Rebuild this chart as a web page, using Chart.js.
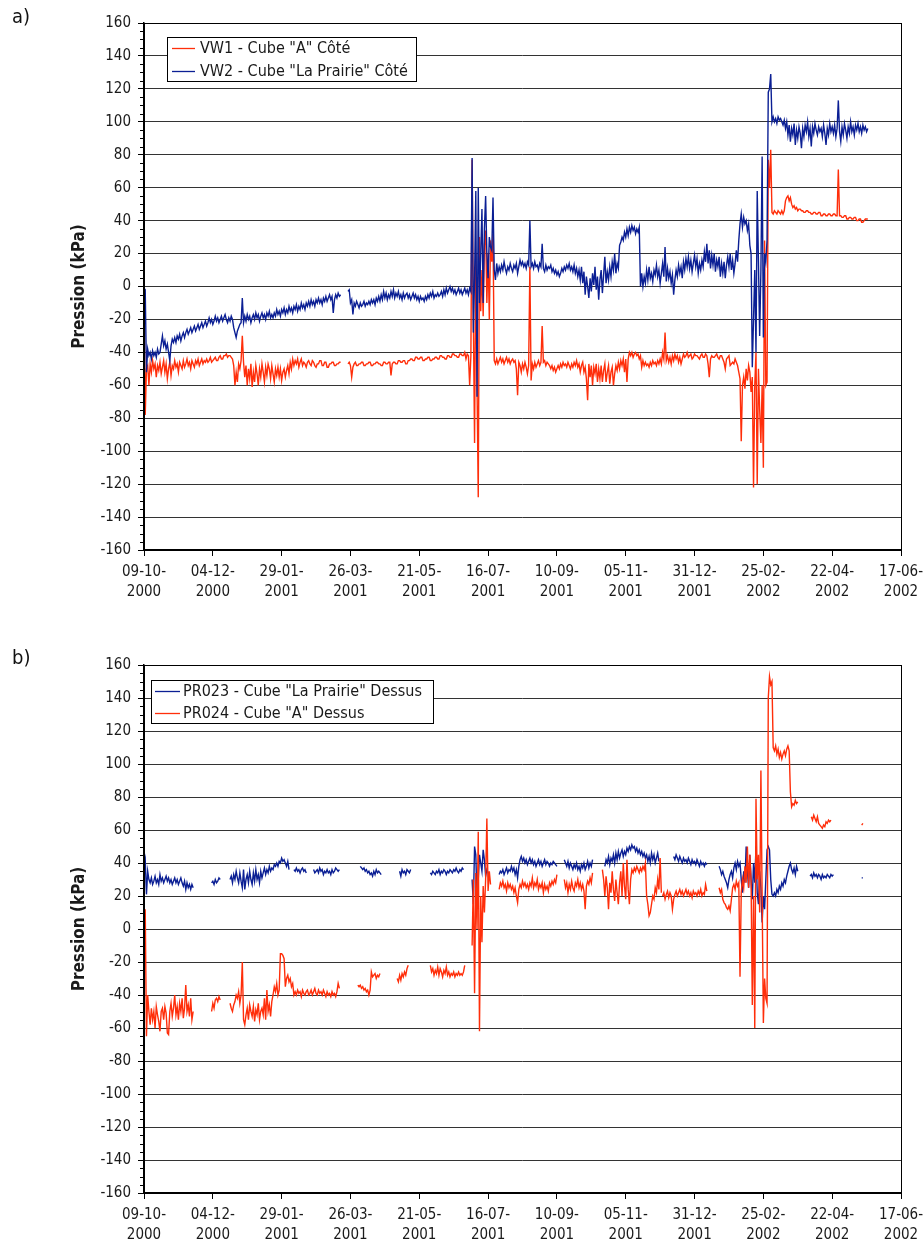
<!DOCTYPE html>
<html>
<head>
<meta charset="utf-8">
<script src="https://cdn.jsdelivr.net/npm/chart.js@4.4.1/dist/chart.umd.min.js"></script>
<style>
  body { margin: 0; background: #fff; width: 924px; height: 1243px; position: relative; overflow: hidden;
         font-family: 'DejaVu Sans Condensed', 'Liberation Sans', sans-serif; }
  .panel { position: absolute; left: 0; width: 924px; }
  .tag { position: absolute; left: 12px; font-size: 20px; color: #111; }
</style>
</head>
<body>
<div class="panel" style="top:0;height:620px"><canvas id="chartA" width="924" height="620"></canvas></div>
<div class="panel" style="top:620px;height:623px"><canvas id="chartB" width="924" height="623"></canvas></div>
<div class="tag" style="top:4px">a)</div>
<div class="tag" style="top:645px">b)</div>
<script>
// Jours depuis le 09-10-2000, segments [jour de début, valeurs journalières] (kPa)
const dateTicks = ['09-10-2000', '04-12-2000', '29-01-2001', '26-03-2001', '21-05-2001', '16-07-2001',
                   '10-09-2001', '05-11-2001', '31-12-2001', '25-02-2002', '22-04-2002', '17-06-2002'];

const vw1 = [
  [0, [-2, -78, -50, -48, -60, -47, -52, -45, -50, -47,
       -55, -48, -51, -46, -53, -49, -45, -52, -47, -56,
       -50, -46, -54, -48, -50, -45, -49, -47, -52, -46,
       -48, -50, -45, -49, -47, -44, -48, -46, -50, -45,
       -47, -49, -45, -47, -44, -48, -46, -44, -47, -45,
       -46, -44, -46, -45, -43, -46, -45, -44, -43, -45,
       -45, -43, -42, -44, -44, -42, -42, -41, -43, -42,
       -42, -43, -44, -48, -60, -52, -58, -47, -50, -45,
       -30, -46, -55, -48, -60, -50, -56, -47, -61, -52,
       -58, -48, -53, -60, -50, -55, -47, -52, -58, -49,
       -54, -47, -50, -56, -48, -53, -58, -50, -54, -49,
       -55, -50, -57, -52, -50, -55, -51, -48, -53, -46,
       -50, -44, -48, -45, -47, -44, -49, -46, -44, -48,
       -46, -47, -49, -46, -45, -47, -48, -45, -46, -48,
       -49, -47, -47, -45, -45, -48, -48, -46, -46, -49,
       -49, -47, -47, -46, -46, -48, -48, -47, -47, -46,
       -46]],
  [166, [-47, -46, -48, -55,
       -49, -47, -46, -48, -48, -47, -47, -46, -46, -48,
       -48, -47, -47, -46, -46, -48, -48, -47, -47, -46,
       -46, -47, -47, -48, -48, -46, -46, -47, -47, -46,
       -46, -54, -47, -46, -46, -47, -47, -45, -45, -46,
       -46, -45, -45, -47, -47, -45, -45, -44, -44, -45,
       -45, -43, -43, -44, -44, -43, -43, -45, -45, -44,
       -44, -43, -43, -45, -45, -44, -44, -43, -43, -44,
       -44, -42, -42, -43, -43, -44, -44, -42, -42, -43,
       -43, -41, -41, -42, -42, -43, -43, -41, -41, -42,
       -42, -40, -44, -41, -42, -60, -42, 77, -20, -95,
       20, -60, -128, 30, -15, 10, -18, 25, 34, -10,
       20, -20, 28, 15, 32, -45, -47, -44, -47, -45,
       -43, -46, -44, -47, -45, -43, -46, -44, -47, -45,
       -44, -46, -45, -50, -66, -46, -48, -52, -47, -50,
       -46, -49, -53, -48, 12, -57, -47, -50, -46, -49,
       -47, -45, -48, -46, -24, -46, -45, -48, -46, -47,
       -48, -50, -48, -51, -49, -52, -50, -48, -50, -47,
       -49, -46, -48, -47, -49, -46, -48, -50, -47, -49,
       -46, -48, -45, -49, -47, -52, -48, -46, -52, -49,
       -56, -69, -47, -55, -48, -60, -49, -53, -47, -58,
       -50, -56, -48, -58, -51, -47, -58, -52, -48, -59,
       -52, -49, -60, -53, -48, -51, -46, -50, -45, -48,
       -44, -52, -44, -58, -44, -40, -42, -40, -43, -41,
       -40, -42, -41, -44, -42, -49, -45, -48, -46, -48,
       -47, -49, -46, -48, -45, -47, -46, -48, -45, -47,
       -44, -47, -40, -44, -28, -45, -42, -46, -43, -47,
       -42, -45, -41, -44, -42, -46, -43, -47, -44, -41,
       -43, -42, -40, -43, -42, -41, -44, -43, -41, -42,
       -42, -43, -44, -42, -41, -43, -43, -41, -42, -47,
       -55, -44, -42, -43, -43, -42, -41, -43, -44, -42,
       -42, -44, -46, -50, -44, -43, -42, -48, -47, -46,
       -47, -44, -46, -48, -52, -56, -94, -60, -55, -62,
       -50, -57, -48, -52, -64, -55, -122, -60, -40, -120,
       -50, -75, -95, -60, -110, 28, -60, -58, 77, 60,
       83, 45, 44, 46, 45, 44, 46, 45, 44, 46,
       44, 46, 52, 54, 55, 52, 54, 50, 48, 49,
       47, 48, 46, 47, 47, 46, 46, 45, 45, 46,
       46, 45, 45, 44, 44, 45, 45, 44, 44, 45,
       45, 43, 43, 44, 44, 43, 43, 44, 44, 43,
       43, 44, 44, 43, 43, 71, 43, 43, 42, 42,
       43, 43, 41, 41, 42, 42, 41, 41, 42, 42,
       40, 40, 41, 41, 39, 39, 40, 41, 41, 41]]
];

const vw2 = [
  [0, [-1, -2, -52, -38, -42, -40, -44, -39, -42, -40,
       -43, -38, -41, -40, -35, -30, -36, -33, -38, -35,
       -40, -45, -36, -32, -34, -31, -34, -30, -32, -29,
       -33, -30, -28, -31, -28, -26, -29, -27, -25, -28,
       -26, -24, -27, -25, -23, -26, -24, -22, -25, -23,
       -21, -24, -22, -19, -22, -20, -23, -21, -18, -21,
       -19, -22, -20, -18, -21, -19, -17, -20, -22, -19,
       -21, -18, -20, -25, -28, -31, -27, -25, -23, -22,
       -7, -22, -18, -21, -17, -20, -18, -22, -19, -17,
       -20, -16, -19, -17, -21, -18, -16, -19, -17, -20,
       -16, -18, -15, -19, -17, -19, -16, -18, -14, -17,
       -15, -18, -14, -16, -13, -17, -14, -16, -12, -15,
       -13, -16, -12, -14, -11, -15, -12, -14, -10, -13,
       -11, -14, -10, -12, -9, -12, -8, -11, -9, -12,
       -8, -10, -7, -10, -8, -11, -7, -9, -6, -9,
       -7, -5, -8, -6, -16, -8, -5, -7, -4, -6,
       -5]],
  [166, [-3, -2, -10, -8,
       -17, -10, -12, -9, -11, -13, -10, -12, -11, -9,
       -12, -10, -11, -9, -11, -8, -10, -8, -11, -7,
       -9, -6, -9, -5, -8, -3, -7, -4, -8, -5,
       -7, -3, -6, -2, -7, -4, -6, -3, -7, -5,
       -8, -4, -7, -5, -4, -7, -5, -8, -6, -4,
       -7, -5, -8, -6, -9, -6, -8, -7, -9, -6,
       -8, -5, -7, -4, -6, -3, -7, -5, -6, -4,
       -6, -5, -3, -6, -2, -5, -1, -4, -2, 0,
       -3, -1, -4, -2, -5, -3, -1, -4, -2, -5,
       -3, -1, -4, -2, -5, -1, -3, 78, -28, 5,
       58, -67, 60, -10, 20, 47, -10, 35, 55, 20,
       5, 30, 24, 22, 54, 10, 4, 14, 8, 12,
       9, 13, 10, 15, 11, 8, 12, 10, 14, 11,
       9, 13, 11, 14, 8, 12, 16, 13, 15, 12,
       14, 11, 15, 13, 40, 12, 14, 11, 15, 12,
       13, 10, 14, 12, 26, 11, 9, 13, 10, 12,
       11, 13, 9, 11, 8, 10, 7, 9, 6, 8,
       11, 9, 12, 10, 13, 11, 14, 10, 12, 9,
       13, 8, 11, 6, 10, 4, 12, 2, 9, -5,
       6, 0, -7, 5, -3, 8, 1, 12, -2, 6,
       -8, 4, 10, -4, 7, 18, 2, 9, 4, 12,
       6, 15, 10, 20, 8, 14, 11, 25, 27, 30,
       28, 33, 30, 35, 31, 36, 33, 37, 34, 36,
       32, 35, 33, 36, 0, 8, 0, 6, 2, 10,
       4, 12, 5, 8, 3, 10, 7, 13, 6, 10,
       2, 8, 14, 6, 24, 3, 11, 5, 9, 2,
       7, -5, 4, 10, 6, 13, 8, 12, 5, 15,
       10, 17, 12, 18, 11, 16, 9, 14, 19, 12,
       17, 8, 14, 10, 16, 12, 21, 15, 26, 14,
       22, 11, 19, 13, 20, 9, 16, 12, 18, 6,
       14, 8, 15, 5, 13, 18, 12, 20, 10, 16,
       8, 14, 22, 15, 28, 38, 44, 36, 42, 38,
       40, 34, 38, 25, 20, -49, -20, 10, -40, 58,
       15, -30, 10, 79, -31, 20, 15, 28, 118, 120,
       129, 100, 103, 100, 102, 99, 103, 101, 102, 100,
       98, 101, 96, 100, 92, 98, 88, 96, 92, 99,
       86, 95, 90, 97, 93, 84, 96, 91, 98, 94,
       100, 91, 96, 85, 97, 93, 99, 95, 92, 97,
       94, 96, 91, 98, 93, 86, 96, 92, 99, 94,
       97, 93, 98, 91, 96, 113, 94, 88, 97, 92,
       99, 95, 90, 97, 93, 100, 94, 97, 92, 98,
       95, 99, 94, 97, 93, 98, 95, 97, 94, 96]]
];

const pr023 = [
  [0, [38, 42, 21, 35, 30, 28, 31, 27, 29, 32, 28, 30, 27, 33, 29, 31, 28, 30, 32, 29, 31,
       28, 30, 27, 29, 31, 28, 30, 27, 29, 31, 28, 26, 29, 24, 28, 25, 27, 24, 27, 25]],
  [55, [28, 29, 27, 30, 28, 29, 31, 30]],
  [70, [30, 32, 28, 33, 30, 35, 31, 28, 34, 29, 25, 36, 24, 30, 33, 28, 35, 30, 27, 34,
        29, 36, 30, 33, 28, 35, 31, 34, 37, 33, 36, 34, 38, 35, 37, 36, 39, 38, 40, 38,
        41, 40, 43, 41, 42, 40, 38, 41, 36]],
  [122, [36, 35, 37, 35, 36, 34, 36, 37, 35, 36, 34]],
  [138, [36, 34, 35, 36, 34, 37, 35, 36, 33, 35, 34, 36, 34, 35, 33, 36, 34, 35, 37, 36, 35, 36]],
  [176, [38, 37, 36, 37, 35, 36, 34, 35, 33, 34, 32, 35, 33, 36, 34, 35, 34, 33]],
  [208, [35, 32, 36, 34, 35, 33, 36, 35, 34, 36]],
  [233, [34, 33, 35, 34, 33, 35, 34, 36, 33, 35, 34, 36, 35, 33, 35, 34, 36, 35, 34, 36,
         35, 37, 35, 34, 36, 35, 37, 36]],
  [267, [30, 15, 50, 45, 17, 30, 45, 40, 35, 48, 42, 32, 36, 34, 33]],
  [289, [33, 35, 34, 36, 33, 35, 37, 34, 36, 35, 38, 35, 37, 33, 36, 31, 38, 42, 44, 41,
         43, 40, 42, 39, 41, 43, 40, 42, 39, 41, 38, 40, 42, 39, 41, 38, 40, 42, 39, 41,
         40, 38, 40, 39, 41, 40, 39, 38]],
  [342, [42, 40, 38, 41, 37, 40, 38, 36, 39, 37, 40, 36, 38, 35, 39, 37, 40, 36, 38, 41,
         37, 40, 38, 42]],
  [375, [38, 42, 40, 44, 39, 43, 41, 45, 40, 46, 42, 47, 43, 46, 48, 44, 47, 45, 49, 47,
         50, 48, 51, 49, 50, 47, 49, 46, 48, 45, 47, 44, 46, 43, 45, 41, 44, 40, 46, 42,
         45, 40, 43, 46, 41]],
  [431, [44, 42, 45, 43, 41, 44, 42, 40, 43, 41, 42, 40, 43, 41, 39, 42, 40, 41, 39, 42,
         40, 38, 41, 39, 40, 38, 40, 39]],
  [468, [38, 36, 33, 35, 32, 30, 28, 25, 30, 33, 35, 31, 37, 40, 36, 41, 38, 40, 30, 22,
         35, 28, 50, 35, 25, 45, 30, 18, 40, 28, 50, 22, 15, 35, 25, 4, 20, 12, 30, 48,
         50, 48, 30, 21, 20, 22, 20, 24, 22, 26, 24, 28, 26, 30, 28, 32, 35, 38, 40, 36,
         34, 37, 33, 38, 35]],
  [542, [32, 33, 31, 34, 32, 33, 31, 33, 32, 30, 33, 31, 32, 31, 33, 32, 31, 33, 32, 33]],
  [584, [31, 31]]
];

const pr024 = [
  [0, [-10, 12, -65, -40, -50, -58, -48, -55, -50, -60, -47, -52, -56, -62, -50, -48, -55, -47, -51, -63, -64,
       -50, -45, -53, -48, -40, -52, -47, -55, -45, -50, -42, -54, -48, -34, -50, -46, -53, -42, -55, -50]],
  [55, [-50, -45, -48, -43, -42, -44, -41, -43]],
  [70, [-45, -48, -50, -46, -44, -40, -42, -38, -45, -40,
        -20, -55, -58, -52, -48, -55, -46, -50, -53, -47,
        -56, -49, -52, -45, -55, -50, -48, -52, -42, -55,
        -37, -50, -46, -53, -44, -40, -35, -38, -33, -40,
        -37, -15, -15, -16, -18, -35, -30, -28, -32, -30,
        -35, -33, -40, -38, -40, -37, -39, -38, -41, -37,
        -39, -40, -38, -37, -40, -39, -37, -40, -38, -36,
        -39, -40, -37, -39, -38, -40, -37, -39, -41, -38,
        -40, -39, -41, -38, -40, -39, -41, -38, -33, -36]],
  [174, [-34, -35, -34, -36, -35, -37, -36, -38, -37, -40, -37, -26, -29, -28, -27, -30, -28, -29, -27]],
  [206, [-30, -32, -28, -31, -27, -29, -26, -28, -24, -22]],
  [233, [-22, -26, -24, -28, -25, -27, -23, -28, -24, -26, -29, -25, -27, -23, -28, -26, -29, -27, -28, -26,
         -29, -27, -28, -26, -28, -27, -28, -26, -22]],
  [267, [-10, 30, -39, 34, 0, 59, -62, 20, -8, 26, 10, 30, 67, 23, 35, 27]],
  [289, [24, 28, 26, 29, 25, 27, 23, 28, 25, 27, 24, 26, 22, 25, 20, 16, 24, 27, 25, 29,
         26, 28, 25, 27, 24, 28, 26, 31, 25, 28, 26, 30, 24, 27, 25, 28, 22, 27, 24, 26,
         23, 28, 26, 29, 27, 30, 28, 33]],
  [342, [30, 25, 28, 22, 27, 24, 29, 25, 23, 28, 26, 30, 25, 28, 24, 27, 23, 12, 26, 29,
         27, 31, 28, 34]],
  [373, [36, 30, 20, 32, 25, 12, 28, 22, 35, 24, 17, 30, 22, 15, 28, 35, 20, 40, 26, 18,
         42, 24, 15, 30, 36, 34, 37, 35, 38, 36, 34, 37, 35, 38, 36, 40, 20, 15, 8, 10,
         15, 20, 18, 25, 22, 30, 24, 43, 22]],
  [422, [20, 22, 18, 21, 23, 19, 22, 20, 12, 18, 21, 23, 20, 22, 24, 21, 23, 20, 22, 24,
         21, 23, 20, 22, 19, 23, 21, 22, 20, 23, 21, 24, 20, 22, 21, 27, 23]],
  [468, [25, 22, 24, 18, 16, 15, 13, 12, 14, 11, 18, 25, 27, 24, 29, 26, 28, -29, 22, 30,
         25, 38, 28, 50, 25, 45, 30, -46, 20, -60, 79, 30, 45, 10, 96, 20, -57, -30, -42, -45,
         140, 153, 148, 150, 110, 108, 111, 106, 109, 104, 107, 103, 106, 108, 105, 109, 111, 108, 83, 74,
         76, 75, 78, 76, 77]],
  [543, [68, 66, 69, 67, 65, 68, 64, 63, 62, 61, 63, 62, 65, 64, 66, 65, 66]],
  [584, [63, 64]]
];

const RED = '#ff2e0a';
const BLUE = '#0b1f94';
const FONT = "'DejaVu Sans Condensed', 'Liberation Sans', sans-serif";
const INK = '#1a1a1a';

// segments -> points, with a null between segments so the line breaks
function toPoints(segments) {
  const pts = [];
  segments.forEach(([start, vals], k) => {
    if (k > 0) pts.push({ x: start - 0.5, y: null });
    vals.forEach((v, i) => pts.push({ x: start + i, y: v }));
  });
  return pts;
}

// frame, minor ticks and the boxed legend inside the plot
const framePlugin = {
  id: 'frame',
  afterDraw(chart, args, opts) {
    const { ctx, chartArea: a, scales: { y } } = chart;
    ctx.save();
    ctx.strokeStyle = '#000';
    ctx.lineWidth = 1;
    for (let v = -160; v <= 160; v += 5) {
      if (v % 20 === 0) continue;
      const py = Math.round(y.getPixelForValue(v)) + 0.5;
      ctx.beginPath();
      ctx.moveTo(a.left - 4, py);
      ctx.lineTo(a.left, py);
      ctx.stroke();
    }
    ctx.strokeRect(Math.round(a.left) + 0.5, Math.round(a.top) + 0.5,
                   Math.round(a.right - a.left), Math.round(a.bottom - a.top));

    const b = opts.box;
    const bx = Math.round(a.left + b.dx), by = Math.round(a.top + b.dy);
    ctx.fillStyle = '#fff';
    ctx.fillRect(bx, by, b.w, b.h);
    ctx.strokeStyle = '#000';
    ctx.strokeRect(bx + 0.5, by + 0.5, b.w, b.h);
    ctx.font = '16px ' + FONT;
    ctx.textBaseline = 'middle';
    chart.data.datasets.forEach((ds, i) => {
      const ly = Math.round(by + b.row0 + i * b.rowGap) + 0.5;
      ctx.strokeStyle = ds.borderColor;
      ctx.lineWidth = 1.3;
      ctx.beginPath();
      ctx.moveTo(bx + b.lineX, ly);
      ctx.lineTo(bx + b.lineX + b.lineW, ly);
      ctx.stroke();
      ctx.fillStyle = INK;
      ctx.fillText(ds.label, bx + b.textX, ly);
    });
    ctx.restore();
  }
};

function makeChart(id, series, topPad, axisH, box) {
  const ctx = document.getElementById(id).getContext('2d');
  return new Chart(ctx, {
    type: 'line',
    data: {
      datasets: series.map((s, i) => ({
        label: s.label,
        data: toPoints(s.data),
        borderColor: s.color,
        backgroundColor: s.color,
        borderWidth: 1.4,
        pointRadius: 0,
        tension: 0,
        fill: false,
        spanGaps: false,
        order: series.length - i   // Excel draws later series on top
      }))
    },
    options: {
      responsive: false,
      animation: false,
      layout: { padding: { top: topPad, right: 23, left: 0, bottom: 0 } },
      plugins: {
        legend: { display: false },
        tooltip: { enabled: false },
        frame: { box: box }
      },
      scales: {
        x: {
          type: 'linear',
          min: 0,
          max: 616,
          afterFit: s => { s.height = axisH; s.paddingLeft = 0; s.paddingRight = 0; },
          ticks: {
            stepSize: 56,
            autoSkip: false,
            maxRotation: 0,
            padding: 6,
            color: INK,
            font: { family: FONT, size: 15, lineHeight: 1.33 },
            callback: (v, i) => {
              const d = dateTicks[i] || '';
              return [d.slice(0, 6), d.slice(6)];
            }
          },
          grid: { drawOnChartArea: false, tickLength: 6, tickColor: '#000', color: '#000' },
          border: { color: '#000', width: 1.5 }
        },
        y: {
          min: -160,
          max: 160,
          afterFit: s => { s.width = 144; },
          ticks: {
            stepSize: 20,
            padding: 7,
            color: INK,
            font: { family: FONT, size: 15 }
          },
          grid: { color: '#333', lineWidth: 1, tickLength: 6, tickColor: '#000' },
          border: { color: '#000', width: 1.5 },
          title: {
            display: true,
            text: 'Pression (kPa)',
            color: INK,
            font: { family: FONT, size: 17, weight: 'bold' },
            padding: { top: 69, bottom: 0 }
          }
        }
      }
    },
    plugins: [framePlugin]
  });
}

makeChart('chartA', [
  { label: 'VW1 - Cube "A" Côté', data: vw1, color: RED },
  { label: 'VW2 - Cube "La Prairie" Côté', data: vw2, color: BLUE }
], 23, 70, { dx: 23, dy: 14, w: 249, h: 44, row0: 11, rowGap: 23, lineX: 5, lineW: 23, textX: 33 });

makeChart('chartB', [
  { label: 'PR023 - Cube "La Prairie" Dessus', data: pr023, color: BLUE },
  { label: 'PR024 - Cube "A" Dessus', data: pr024, color: RED }
], 45, 50, { dx: 7, dy: 15, w: 282, h: 43, row0: 11, rowGap: 22, lineX: 4, lineW: 25, textX: 32 });
</script>
</body>
</html>
